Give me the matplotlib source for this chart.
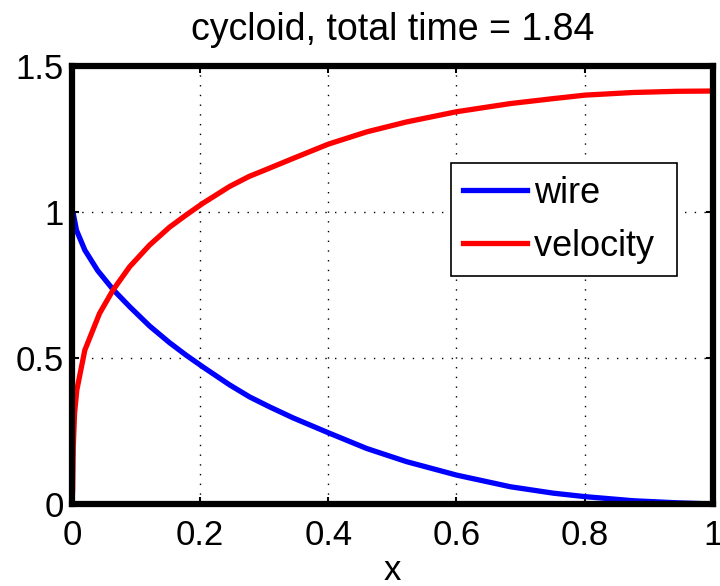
import numpy as np
import matplotlib
matplotlib.use("Agg")
import matplotlib.pyplot as plt

plt.rcParams['font.family'] = ['Liberation Sans', 'DejaVu Sans']

# values
wire_x = [0.0, 0.002, 0.007, 0.020, 0.040, 0.064, 0.090, 0.121, 0.152, 0.178,
          0.204, 0.246, 0.277, 0.309, 0.345, 0.400, 0.460, 0.522, 0.600,
          0.684, 0.751, 0.801, 0.876, 0.944, 1.0]
wire_y = [1.0, 0.995, 0.938, 0.870, 0.800, 0.735, 0.676, 0.610, 0.553, 0.510,
          0.470, 0.408, 0.367, 0.332, 0.295, 0.244, 0.190, 0.145, 0.099,
          0.059, 0.037, 0.025, 0.011, 0.004, 0.0]

vel_x = [0.0, 0.001, 0.002, 0.004, 0.0075, 0.020, 0.043, 0.064, 0.090, 0.121,
         0.152, 0.178, 0.204, 0.246, 0.277, 0.293, 0.345, 0.400, 0.460,
         0.522, 0.600, 0.684, 0.751, 0.801, 0.876, 0.944, 1.0]
vel_y = [0.0, 0.05, 0.196, 0.31, 0.39, 0.527, 0.653, 0.733, 0.813, 0.887,
         0.948, 0.990, 1.030, 1.088, 1.123, 1.137, 1.184, 1.233, 1.275,
         1.309, 1.344, 1.372, 1.389, 1.401, 1.410, 1.414, 1.415]

title = "cycloid, total time = 1.84"
xticks = [0, 0.2, 0.4, 0.6, 0.8, 1]
xticklabels = ["0", "0.2", "0.4", "0.6", "0.8", "1"]
yticks = [0, 0.5, 1, 1.5]
yticklabels = ["0", "0.5", "1", "1.5"]

fig = plt.figure(figsize=(7.2, 5.86), dpi=100)
ax = fig.add_axes([0.1, 0.14, 0.89, 0.747])

ax.plot(wire_x, wire_y, color='#0000ff', lw=3.8, label='wire',
        solid_joinstyle='round')
ax.plot(vel_x, vel_y, color='#ff0000', lw=3.8, label='velocity ',
        solid_joinstyle='round')

ax.set_xlim(0, 1)
ax.set_ylim(0, 1.5)
ax.set_xticks(xticks)
ax.set_xticklabels(xticklabels)
ax.set_yticks(yticks)
ax.set_yticklabels(yticklabels)
ax.tick_params(direction='in', length=5, width=1.5, top=True, right=True,
               labelsize=25)
ax.tick_params(axis='x', pad=11)
ax.tick_params(axis='y', pad=6)
ax.grid(True, color='black', linestyle=(0, (1, 6)), linewidth=1.0)

for s in ax.spines.values():
    s.set_linewidth(4.5)

ax.set_xlabel('x', fontsize=25, labelpad=1)
ax.set_title(title, fontsize=27, pad=19)

leg = ax.legend(loc='upper left', bbox_to_anchor=(0.591, 0.779),
                borderaxespad=0, fontsize=26, handlelength=1.75,
                handletextpad=0.2, labelspacing=0.5, borderpad=0.35,
                fancybox=False, framealpha=1)
leg.get_frame().set_edgecolor('black')
leg.get_frame().set_linewidth(1.2)

fig.savefig('out.png', dpi=100)
